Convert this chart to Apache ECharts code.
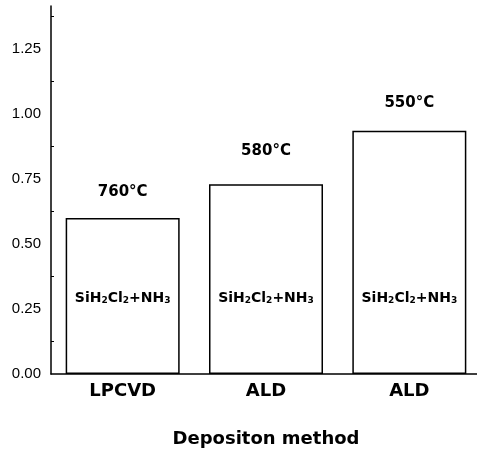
<!DOCTYPE html>
<html>
<head>
<meta charset="utf-8">
<script src="https://cdn.jsdelivr.net/npm/echarts@6/dist/echarts.min.js"></script>
<style>
  html, body { margin: 0; padding: 0; background: #fff; }
  #chart { width: 477px; height: 449px; }
</style>
</head>
<body>
<div id="chart"></div>
<script>
// 数据
var methods = ['LPCVD', 'ALD', 'ALD'];
var values = [0.60, 0.73, 0.935];
var temps = ['760°C', '580°C', '550°C'];
var yTicks = [0, 0.25, 0.5, 0.75, 1.0, 1.25];

// 温度标签离柱顶的距离（原图里手工摆放，不完全一致）
var tempGap = [18, 26, 20];

var boldFont = 'DejaVu Sans';

var chart = echarts.init(document.getElementById('chart'));

var option = {
  backgroundColor: '#ffffff',
  animation: false,
  grid: { left: 51, top: 6, width: 430, height: 368, outerBoundsMode: 'none' },
  xAxis: {
    type: 'category',
    data: methods,
    name: 'Depositon method',
    nameLocation: 'middle',
    nameGap: 56,
    nameTextStyle: { fontFamily: boldFont, fontWeight: 'bold', fontSize: 18, color: '#000' },
    axisLine: { lineStyle: { color: '#000', width: 1.5 } },
    axisTick: { show: false },
    axisLabel: { fontFamily: boldFont, fontWeight: 'bold', fontSize: 18, color: '#000', margin: 8 }
  },
  yAxis: {
    type: 'value',
    min: 0,
    max: 1.415,
    interval: 0.25,
    splitLine: { show: false },
    axisLine: { show: true, lineStyle: { color: '#000', width: 1.5 } },
    axisTick: { inside: true, length: 4, lineStyle: { color: '#000' } },
    minorTick: { show: true, splitNumber: 2, length: 3, lineStyle: { color: '#000' } },
    axisLabel: {
      showMaxLabel: false,
      fontFamily: 'Arial, Liberation Sans',
      fontSize: 15,
      color: '#000',
      margin: 10,
      formatter: function (v) {
        return yTicks.indexOf(v) >= 0 ? v.toFixed(2) : '';
      }
    }
  },
  series: [{
    type: 'bar',
    data: values,
    barWidth: 114,
    itemStyle: { color: '#fff', borderColor: '#000', borderWidth: 1.5 },
    label: {
      show: true,
      position: 'insideBottom',
      distance: 69,
      formatter: 'SiH{s|2}Cl{s|2}+NH{s|3}',
      fontFamily: boldFont,
      fontWeight: 'bold',
      fontSize: 14,
      color: '#000',
      rich: {
        s: { fontSize: 9, fontWeight: 'bold', color: '#000', fontFamily: boldFont, padding: [5, 0, 0, 0] }
      }
    }
  }, {
    type: 'bar',
    data: values.map(function (v, i) {
      return { value: v, label: { distance: tempGap[i] } };
    }),
    barWidth: 114,
    barGap: '-100%',
    silent: true,
    itemStyle: { color: 'transparent' },
    label: {
      show: true,
      position: 'top',
      formatter: function (p) { return temps[p.dataIndex]; },
      fontFamily: boldFont,
      fontWeight: 'bold',
      fontSize: 15,
      color: '#000'
    }
  }]
};

chart.setOption(option);
</script>
</body>
</html>
